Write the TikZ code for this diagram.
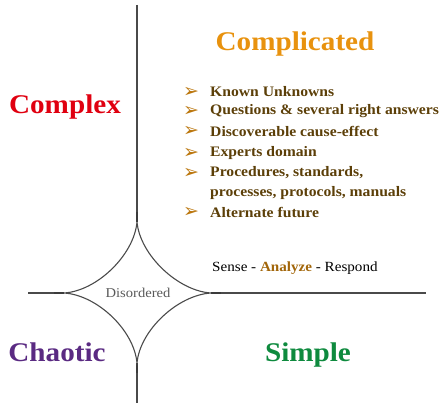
\documentclass[tikz,border=0pt]{standalone}
\usepackage{fontspec}
\setmainfont{Liberation Serif}
\newfontfamily\symfont{DejaVu Sans}
\newfontfamily\widefont[FakeStretch=1.08]{Liberation Serif}
\definecolor{cxorange}{HTML}{E8920E}
\definecolor{cxred}{HTML}{E00010}
\definecolor{cxpurple}{HTML}{5A2A82}
\definecolor{cxgreen}{HTML}{0E8A3E}
\definecolor{cxbrown}{HTML}{5C3F08}
\definecolor{cxline}{HTML}{4A4A4A}
\begin{document}
\begin{tikzpicture}[x=1pt,y=-1pt,
  axis/.style={draw=cxline,line width=1.1pt},
  title/.style={font=\widefont\fontsize{27}{30}\selectfont\bfseries,inner sep=0pt},
  bul/.style={font=\symfont\fontsize{19}{20}\selectfont,text=cxorange!80!black,inner sep=0pt},
  item/.style={font=\widefont\fontsize{14.5}{16}\selectfont\bfseries,text=cxbrown,inner sep=0pt,anchor=west,align=left}]
\useasboundingbox (0,0) rectangle (444,403);
% axes
\coordinate (vt) at (137,5);
\coordinate (vb) at (137,403);
\coordinate (hl) at (28,293);
\coordinate (hr) at (426,293);
\coordinate (T) at (137,222);
\coordinate (R) at (211,293);
\coordinate (B) at (137,363);
\coordinate (L) at (64,293);
\draw[axis] (vt) -- (T);
\draw[axis] (B) -- (vb);
\draw[axis] (hl) -- (L);
\draw[axis] (R) -- (hr);
\draw[line width=2.2pt,cxline!80!black] (137,212) -- (T) (B) -- (137,373) (54,293) -- (L) (R) -- (221,293);
% disordered star
\draw[axis] (T) .. controls (140,255) and (178,291) .. (R)
            .. controls (178,295) and (140,330) .. (B)
            .. controls (134,330) and (97,295) .. (L)
            .. controls (97,291) and (134,255) .. (T);
\node[font=\widefont\fontsize{13.5}{16}\selectfont,text=black!65] (dis) at (138,293) {Disordered};
% titles
\node[title,text=cxorange] (compl) at (295,44) {Complicated};
\node[title,text=cxred] (cplx) at (65,107) {Complex};
\node[title,text=cxpurple] (chao) at (57,352) {Chaotic};
\node[title,text=cxgreen] (simp) at (308,355) {Simple};
% bullets
\node[bul] (b1) at (191,92) {➢};
\node[item] (i1) at (210,92) {Known Unknowns};
\node[bul] (b2) at (191,111) {➢};
\node[item] (i2) at (210,111) {Questions \& several right answers};
\node[bul] (b3) at (191,131) {➢};
\node[item] (i3) at (210,131) {Discoverable cause-effect};
\node[bul] (b4) at (191,153) {➢};
\node[item] (i4) at (210,153) {Experts domain};
\node[bul] (b5) at (191,173) {➢};
\node[item] (i5) at (210,173) {Procedures, standards,};
\node[item] (i6) at (210,193) {processes, protocols, manuals};
\node[bul] (b7) at (191,212) {➢};
\node[item] (i7) at (210,212) {Alternate future};
% sense analyze respond
\node[font=\widefont\fontsize{14}{16}\selectfont,inner sep=0pt,anchor=west] (sar) at (212,268) {Sense - \textcolor{cxorange!70!black}{\bfseries Analyze} - Respond};
\end{tikzpicture}
\end{document}
